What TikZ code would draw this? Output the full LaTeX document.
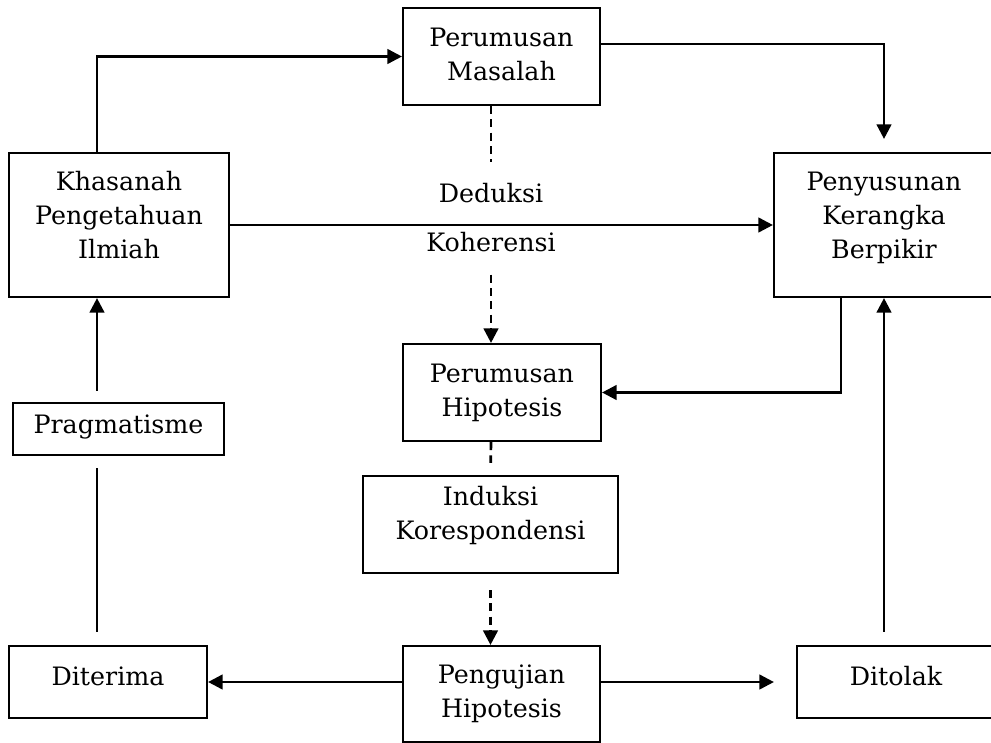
\documentclass[tikz,border=0pt]{standalone}
\usepackage{fontspec}
\setmainfont{DejaVu Serif}
\usetikzlibrary{arrows.meta}

\newcommand{\boxtext}[2][0pt]{\raisebox{#1}[\height][\depth]{\begin{tabular}{@{}c@{}}#2\end{tabular}}}

\begin{document}
\begin{tikzpicture}[x=0.75pt,y=-0.75pt,
    font=\fontsize{19}{25.5}\selectfont,
    kotak/.style 2 args={draw, line width=1.6pt, inner sep=0pt, minimum width=#1, minimum height=#2},
    panah/.style={line width=2pt, -{Triangle[length=11pt,width=11pt]}},
    garis/.style={line width=2pt},
    putus/.style={line width=2pt, dash pattern=on 6pt off 4pt}]
            \useasboundingbox (0,0) rectangle (991,742);

            % kotak-kotak
            \node[kotak={147.75pt}{72.75pt}] (masalah) at (501.5,56.5) {\boxtext{Perumusan\\Masalah}};
            \node[kotak={165pt}{108pt}] (khasanah) at (119,225) {\boxtext[5.25pt]{Khasanah\\Pengetahuan\\Ilmiah}};
            \node[kotak={165pt}{108pt}] (penyusunan) at (884,225) {\boxtext[5.25pt]{Penyusunan\\Kerangka\\Berpikir}};
            \node[kotak={148.5pt}{72.75pt}] (hipotesis) at (502,392.5) {\boxtext{Perumusan\\Hipotesis}};
            \node[kotak={191.25pt}{72.75pt}] (induksi) at (490.5,524.5) {\boxtext[6.4pt]{Induksi\\Korespondensi}};
            \node[kotak={147.75pt}{72pt}] (pengujian) at (501.5,694) {\boxtext{Pengujian\\Hipotesis}};
            \node[kotak={148.5pt}{54pt}] (diterima) at (108,682) {\boxtext[2.6pt]{Diterima}};
            \node[kotak={148.5pt}{54pt}] (ditolak) at (896,682) {\boxtext[2.6pt]{Ditolak}};
            \node[kotak={158.25pt}{39pt}] (pragmatisme) at (118.5,429) {\boxtext[1.5pt]{Pragmatisme}};

            % label tengah
            \node[anchor=base] (deduksi) at (491,202) {Deduksi};
            \node[anchor=base] (koherensi) at (491,251) {Koherensi};

            % jalur garis
            \coordinate (kiri) at (97,0);
            \coordinate (kanan) at (884,0);
            \coordinate (tengah) at (491,0);
            \coordinate (dalam) at (841,0);
            \coordinate (atas) at (0,44);

            % alur atas
            \draw[panah] (khasanah.north -| kiri) |- (masalah.west);
            \draw[panah, shorten >=9.75pt] (masalah.east |- atas) -| (penyusunan.north);
            \draw[panah] (khasanah) -- (penyusunan);

            % alur tengah
            \draw[putus, shorten >=12pt] (masalah.south -| tengah) -- (deduksi.north);
            \draw[putus, panah, shorten <=14pt] (koherensi.south) -- (hipotesis.north -| koherensi.south);
            \draw[panah] (penyusunan.south -| dalam) |- (hipotesis.east);
            \draw[putus, shorten >=9pt] (hipotesis.south -| tengah) -- (induksi.north);
            \draw[putus, panah, shorten <=12pt] (induksi.south) -- (pengujian.north -| induksi.south);

            % alur bawah
            \draw[panah] (pengujian.west |- diterima) -- (diterima.east);
            \draw[panah, shorten >=16.5pt] (pengujian.east |- ditolak) -- (ditolak.west);
            \draw[garis, shorten <=9.75pt, shorten >=9pt] (diterima.north -| kiri) -- (pragmatisme.south -| kiri);
            \draw[panah, shorten <=8.25pt] (pragmatisme.north -| kiri) -- (khasanah.south -| kiri);
            \draw[panah, shorten <=9.75pt] (ditolak.north -| kanan) -- (penyusunan.south);
\end{tikzpicture}
\end{document}
